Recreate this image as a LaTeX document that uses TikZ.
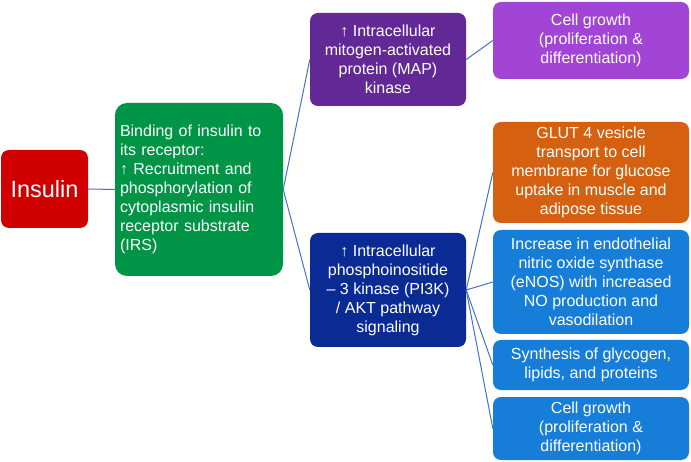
\documentclass[tikz,border=0pt]{standalone}
\usepackage{fontspec}
\setmainfont{Liberation Sans}
\usetikzlibrary{arrows.meta}
\definecolor{insred}{RGB}{208,0,0}
\definecolor{bindgreen}{RGB}{0,148,70}
\definecolor{mapviolet}{RGB}{98,40,150}
\definecolor{lightviolet}{RGB}{162,68,214}
\definecolor{glutorange}{RGB}{212,96,16}
\definecolor{pikblue}{RGB}{10,42,148}
\definecolor{skyblue}{RGB}{22,126,216}
\definecolor{linkblue}{RGB}{68,114,196}
\tikzstyle{base} = [rectangle, rounded corners=8pt, draw=none, text=white, align=center, inner sep=2pt, font=\fontsize{16}{19}\selectfont]
\tikzstyle{insbox} = [base, fill=insred, minimum width=87pt, minimum height=78pt, font=\fontsize{23.5}{28}\selectfont]
\tikzstyle{bindbox} = [base, rounded corners=12pt, fill=bindgreen, minimum width=168pt, minimum height=173pt, align=left, text width=158pt]
\tikzstyle{mapbox} = [base, fill=mapviolet, minimum width=156pt, minimum height=93pt]
\tikzstyle{pikbox} = [base, fill=pikblue, minimum width=156pt, minimum height=114pt]
\tikzstyle{effect} = [base, minimum width=196pt]
\tikzstyle{link} = [draw=linkblue, line width=1pt]

\begin{document}
\begin{tikzpicture}[x=1pt, y=-1pt]
    \useasboundingbox (0,0) rectangle (691,462);
    \node (insulin) [insbox] at (44.5,189) {Insulin};
    \node (binding) [bindbox] at (199,189.5) {Binding of insulin to\\its receptor:\\↑ Recruitment and\\phosphorylation of\\cytoplasmic insulin\\receptor substrate\\(IRS)};
    \node (map) [mapbox] at (388,59.5) {↑ Intracellular\\mitogen-activated\\protein (MAP)\\kinase};
    \node (pik) [pikbox] at (388,290) {↑ Intracellular\\phosphoinositide\\– 3 kinase (PI3K)\\/ AKT pathway\\signaling};
    \node (growthA) [effect, fill=lightviolet, minimum height=77pt] at (591,40.5) {Cell growth\\(proliferation \&\\differentiation)};
    \node (glut) [effect, fill=glutorange, minimum height=101pt] at (591,172.5) {GLUT 4 vesicle\\transport to cell\\membrane for glucose\\uptake in muscle and\\adipose tissue};
    \node (enos) [effect, fill=skyblue, minimum height=104pt] at (591,282) {Increase in endothelial\\nitric oxide synthase\\(eNOS) with increased\\NO production and\\vasodilation};
    \node (synth) [effect, fill=skyblue, minimum height=50pt] at (591,365) {Synthesis of glycogen,\\lipids, and proteins};
    \node (growthB) [effect, fill=skyblue, minimum height=63pt] at (591,428.5) {Cell growth\\(proliferation \&\\differentiation)};

    \draw[link] (insulin.east) -- (binding.west);
    \draw[link] (binding.east) -- (map.west);
    \draw[link] (binding.east) -- (pik.west);
    \draw[link] (map.east) -- (growthA.west);
    \draw[link] (pik.east) -- (glut.west);
    \draw[link] (pik.east) -- (enos.west);
    \draw[link] (pik.east) -- (synth.west);
    \draw[link] (pik.east) -- (growthB.west);
\end{tikzpicture}
\end{document}
